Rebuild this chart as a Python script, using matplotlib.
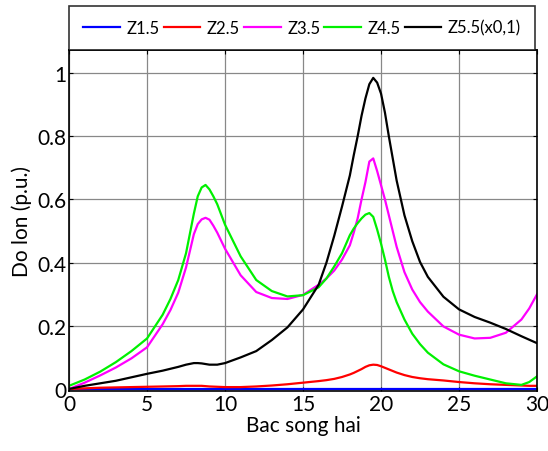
import matplotlib
matplotlib.use("Agg")
import matplotlib.pyplot as plt

plt.rcParams['font.family'] = ['Lato', 'DejaVu Sans']

# harmonic order
bac = [0, 1, 2, 3, 4, 5, 6, 6.5, 7, 7.5, 8, 8.25, 8.5, 8.75, 9, 9.25, 9.5, 10,
       11, 12, 13, 14, 15, 16, 16.5, 17, 17.5, 18, 18.25, 18.5, 18.75, 19, 19.25, 19.5, 19.75, 20,
       20.25, 20.5, 20.75, 21, 21.5, 22, 22.5, 23, 24, 25, 26, 27, 28, 29, 29.5, 30]

z15 = [0.0] * len(bac)
z25 = [0, 0.002, 0.004, 0.005, 0.006, 0.007, 0.008, 0.0085, 0.009, 0.01, 0.01, 0.01, 0.01, 0.009, 0.008, 0.0075, 0.007, 0.006,
       0.006, 0.008, 0.011, 0.015, 0.02, 0.025, 0.028, 0.032, 0.038, 0.046, 0.051, 0.057, 0.063, 0.07, 0.075, 0.077, 0.076, 0.072,
       0.067, 0.062, 0.057, 0.052, 0.044, 0.038, 0.034, 0.031, 0.027, 0.022, 0.018, 0.015, 0.013, 0.011, 0.01, 0.01]
z35 = [0.0, 0.02, 0.043, 0.068, 0.097, 0.132, 0.205, 0.25, 0.305, 0.385, 0.49, 0.522, 0.537, 0.542, 0.536, 0.517, 0.495, 0.444,
       0.36, 0.307, 0.288, 0.285, 0.298, 0.33, 0.35, 0.375, 0.41, 0.455, 0.495, 0.54, 0.6, 0.655, 0.72, 0.73, 0.69, 0.645,
       0.6, 0.55, 0.5, 0.45, 0.37, 0.315, 0.275, 0.245, 0.198, 0.172, 0.16, 0.162, 0.178, 0.22, 0.255, 0.3]
z45 = [0.01, 0.03, 0.055, 0.085, 0.12, 0.16, 0.235, 0.285, 0.345, 0.43, 0.555, 0.61, 0.638, 0.646, 0.632, 0.61, 0.585, 0.52,
       0.42, 0.345, 0.31, 0.293, 0.297, 0.322, 0.35, 0.388, 0.43, 0.487, 0.508, 0.525, 0.54, 0.552, 0.557, 0.545, 0.505, 0.46,
       0.41, 0.355, 0.31, 0.275, 0.22, 0.175, 0.142, 0.115, 0.078, 0.056, 0.042, 0.03, 0.018, 0.013, 0.022, 0.04]
z55 = [0, 0.01, 0.018, 0.026, 0.037, 0.048, 0.058, 0.064, 0.07, 0.077, 0.082, 0.082, 0.081, 0.079, 0.077, 0.077, 0.077, 0.082,
       0.1, 0.12, 0.155, 0.195, 0.252, 0.33, 0.4, 0.485, 0.578, 0.676, 0.74, 0.8, 0.865, 0.92, 0.965, 0.985, 0.97, 0.935,
       0.875, 0.8, 0.73, 0.66, 0.55, 0.468, 0.402, 0.355, 0.292, 0.252, 0.228, 0.21, 0.19, 0.167, 0.156, 0.145]

labels = ['Z1.5', 'Z2.5', 'Z3.5', 'Z4.5', 'Z5.5(x0,1)']
colors = ['#0000ff', '#ff0000', '#ff00ff', '#00f000', '#000000']

fig = plt.figure(figsize=(5.48, 4.52), dpi=100)
ax = fig.add_axes([0.126, 0.133, 0.854, 0.754])

for y, lab, c in zip([z15, z25, z35, z45, z55], labels, colors):
    ax.plot(bac, y, color=c, lw=1.6, label=lab, solid_joinstyle='round')

ax.set_xlim(0, 30)
ax.set_ylim(-0.006, 1.073)
ax.set_xticks([0, 5, 10, 15, 20, 25, 30])
ax.set_yticks([0, 0.2, 0.4, 0.6, 0.8, 1])
ax.set_yticklabels(['0', '0.2', '0.4', '0.6', '0.8', '1'])
ax.grid(True, color='#888888', lw=0.9)
ax.tick_params(direction='in', top=True, right=True, labelsize=15, length=3, pad=2)
for s in ax.spines.values():
    s.set_linewidth(1.2)

ax.set_xlabel('Bac song hai', fontsize=15, labelpad=1)
ax.set_ylabel('Do lon (p.u.)', fontsize=15, labelpad=4)

leg = ax.legend(loc='lower left', bbox_to_anchor=(0, 1.0, 0.996, 0.1), mode='expand',
                ncol=5, fontsize=12, frameon=True, fancybox=False, edgecolor='black',
                handlelength=2.2, handletextpad=0.4, columnspacing=0.6, borderaxespad=0,
                borderpad=0.85)
leg.get_frame().set_linewidth(1.2)

fig.savefig('out.png', dpi=100)
